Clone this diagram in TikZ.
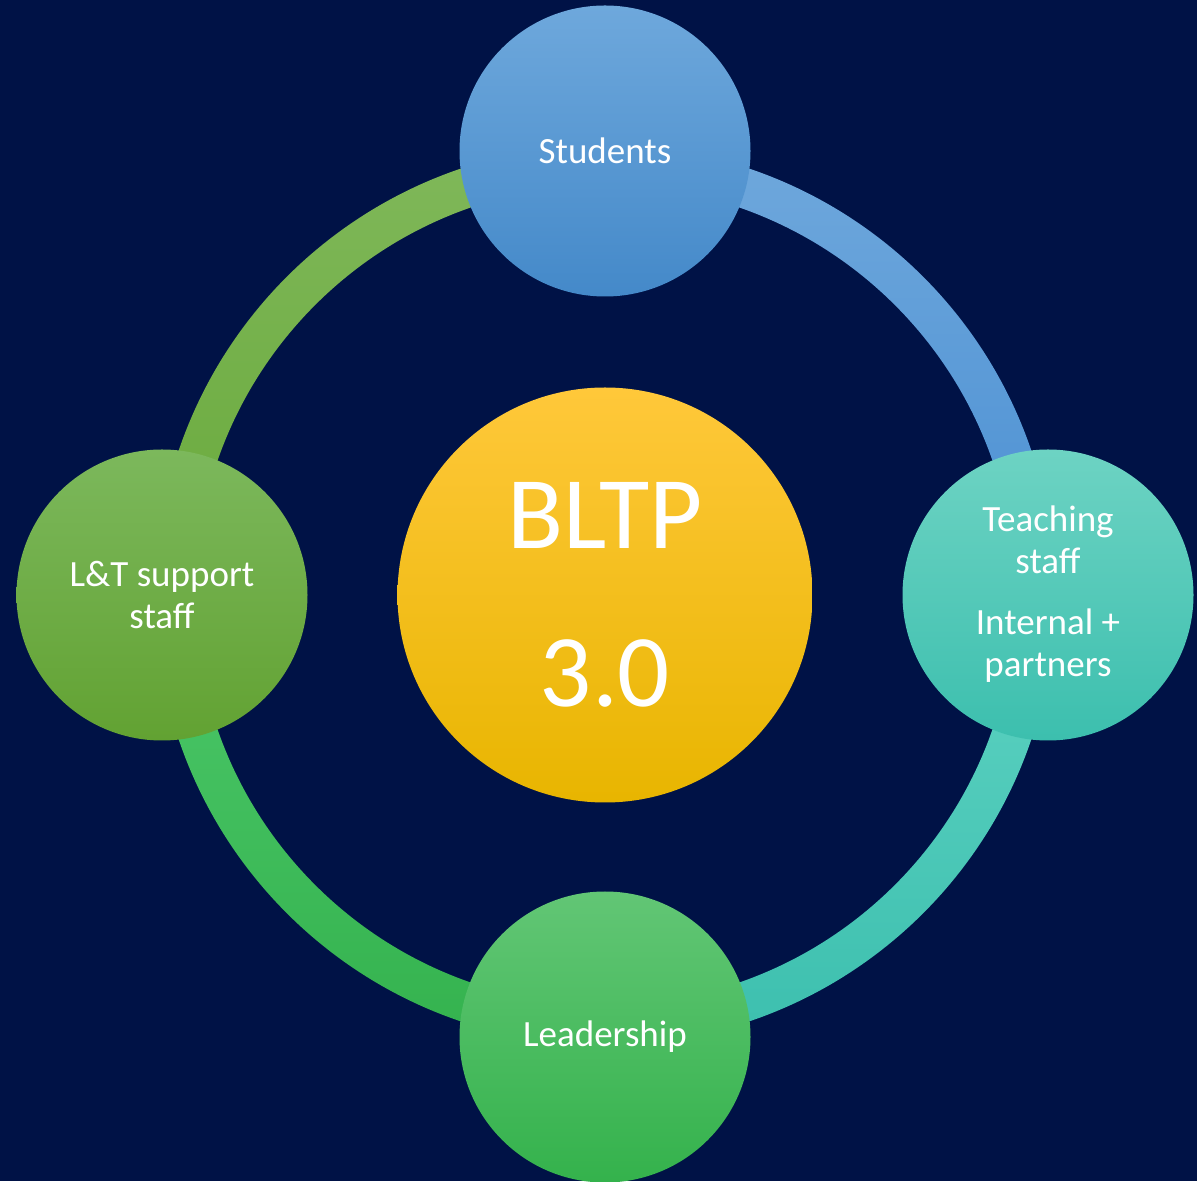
\documentclass[tikz,border=0pt]{standalone}
\usepackage{fontspec}
\setmainfont{Carlito}
\definecolor{bgnavy}{HTML}{001246}
\definecolor{stuTop}{HTML}{6EA8DC}
\definecolor{stuBot}{HTML}{4489C9}
\definecolor{teaTop}{HTML}{6DD3C3}
\definecolor{teaBot}{HTML}{3CBFAE}
\definecolor{ltTop}{HTML}{7CB85C}
\definecolor{ltBot}{HTML}{62A232}
\definecolor{leaTop}{HTML}{62C675}
\definecolor{leaBot}{HTML}{34B24C}
\definecolor{cenTop}{HTML}{FFC83A}
\definecolor{cenMid}{HTML}{FFC800}
\definecolor{cenBot}{HTML}{E8B500}
\definecolor{trTop}{HTML}{6FA8DC}
\definecolor{trBot}{HTML}{4A8FD3}
\definecolor{brTop}{HTML}{5FD3C3}
\definecolor{brBot}{HTML}{3CBFAE}
\definecolor{blTop}{HTML}{4CC86A}
\definecolor{blBot}{HTML}{34B24E}
\definecolor{tlTop}{HTML}{80B85A}
\definecolor{tlBot}{HTML}{68A93A}
\tikzset{
  bubble/.style={circle, minimum size=291pt, inner sep=0pt, text=white,
    align=center, font=\fontsize{37}{42}\selectfont},
  hub/.style={circle, minimum size=415pt, inner sep=0pt, text=white,
    align=center, font=\fontsize{103}{158}\selectfont},
}
\begin{document}
\begin{tikzpicture}[x=1pt,y=1pt]
\useasboundingbox (0,0) rectangle (1197,1181);
\fill[bgnavy] (0,0) rectangle (1197,1181);
\coordinate (c) at (605,586);
% ring quadrants
\shade[top color=trTop, bottom color=trBot]
  ([shift={(c)}]0:450) arc[start angle=0,end angle=90,radius=450]
  -- ([shift={(c)}]90:410) arc[start angle=90,end angle=0,radius=410] -- cycle;
\shade[top color=brTop, bottom color=brBot]
  ([shift={(c)}]270:450) arc[start angle=270,end angle=360,radius=450]
  -- ([shift={(c)}]0:410) arc[start angle=360,end angle=270,radius=410] -- cycle;
\shade[top color=blTop, bottom color=blBot]
  ([shift={(c)}]180:450) arc[start angle=180,end angle=270,radius=450]
  -- ([shift={(c)}]270:410) arc[start angle=270,end angle=180,radius=410] -- cycle;
\shade[top color=tlTop, bottom color=tlBot]
  ([shift={(c)}]90:450) arc[start angle=90,end angle=180,radius=450]
  -- ([shift={(c)}]180:410) arc[start angle=180,end angle=90,radius=410] -- cycle;
% bubbles
\node[bubble, top color=stuTop, bottom color=stuBot] (stu) at (605,1030) {Students};
\node[bubble, top color=teaTop, bottom color=teaBot] (tea) at (1048,586)
  {\raisebox{-5pt}[0pt][0pt]{\parbox{200pt}{\centering Teaching\\staff\\[19pt]Internal +\\partners}}};
\node[bubble, top color=ltTop, bottom color=ltBot] (lt) at (162,586)
  {L\&T support\\staff};
\node[bubble, top color=leaTop, bottom color=leaBot] (lea) at (605,144) {Leadership};
\node[hub, top color=cenTop, middle color=cenMid, bottom color=cenBot] (bltp) at (605,586)
  {BLTP\\3.0};
\end{tikzpicture}
\end{document}
